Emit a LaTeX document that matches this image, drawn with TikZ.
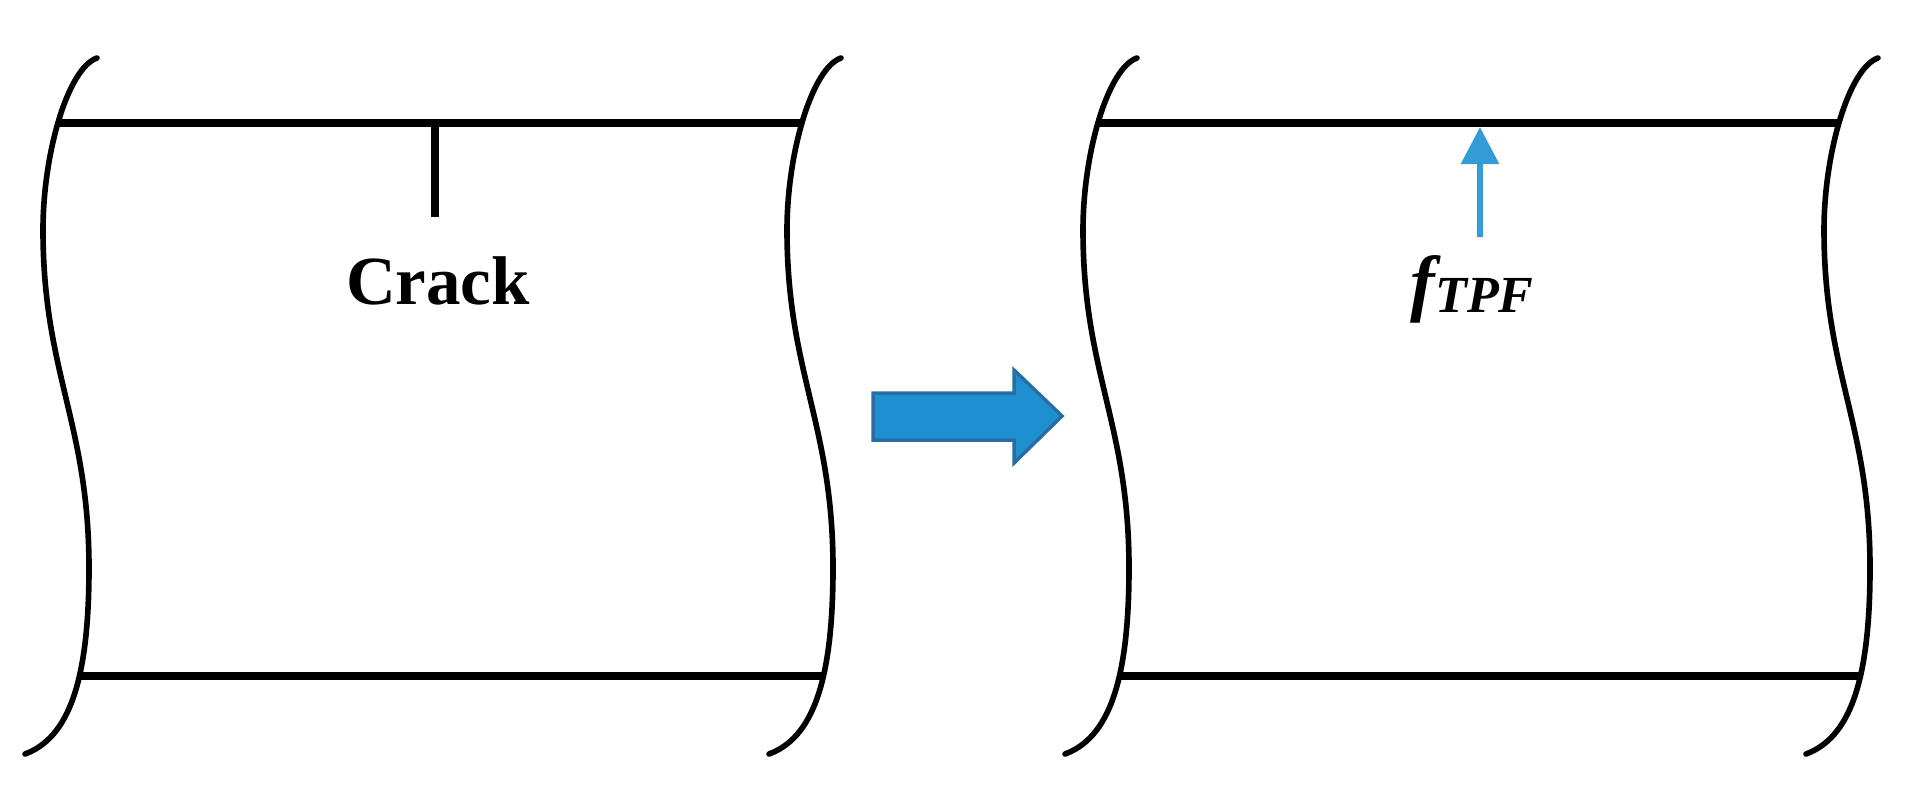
\documentclass[tikz,border=0pt]{standalone}
\usepackage{fontspec}
\setmainfont{Liberation Serif}
\usetikzlibrary{arrows.meta}

\definecolor{arrowblue}{RGB}{30,144,210}
\definecolor{arrowedge}{RGB}{40,110,165}
\definecolor{forceblue}{RGB}{52,155,215}

\tikzstyle{rim} = [line width=1.6pt,line cap=round]
\tikzstyle{wall} = [draw,line width=2.3pt]
\tikzstyle{bigarrow} = [fill=arrowblue,draw=arrowedge,line width=1pt]
\tikzstyle{forcearrow} = [-{Triangle[length=3.7mm,width=3.7mm]},draw=forceblue,line width=1.7pt]
\tikzstyle{cracktext} = [font=\fontsize{19.6}{20}\selectfont\bfseries,inner sep=0pt]
\tikzstyle{forcetext} = [font=\fontsize{21}{21}\selectfont\bfseries\itshape,inner sep=0pt]

\begin{document}
\begin{tikzpicture}[x=0.01cm,y=-0.01cm]
      \useasboundingbox (0,0) rectangle (1912,808);

      %% wavy cut edges of both panels
      \foreach \X in {58,802,1098,1839}
      {
        \draw[rim,shift={(\X,123)}] (39,-65) .. controls (10,-55) and (-15,30) .. (-15,107)
          .. controls (-15,250) and (31,300) .. (31,445)
          .. controls (31,560) and (10,615) .. (-33,631);
      }

      %% pipe walls
      \foreach \nodename/\x/\y in {tl1/58/123, tr1/802/123, bl1/80/676, br1/823/676,
        tl2/1098/123, tr2/1839/123, bl2/1120/676, br2/1861/676}
      {
        \coordinate (\nodename) at (\x,\y);
      }
      \path
      \foreach \startnode/\endnode in {tl1/tr1, bl1/br1, tl2/tr2, bl2/br2}
      {
        (\startnode) edge[wall] (\endnode)
      };

      %% crack
      \coordinate (crackroot) at (435,123);
      \coordinate (cracktip) at (435,217);
      \draw[wall] (crackroot) -- (cracktip);
      \node[cracktext,anchor=base] (crack) at (438,304) {Crack};

      %% transition arrow
      \draw[bigarrow] (873,393) -- (1014,393) -- (1014,370) -- (1062,416)
        -- (1014,463) -- (1014,440) -- (873,440) -- cycle;

      %% force at the wall
      \coordinate (ftail) at (1480,237);
      \coordinate (fhit) at (1480,127);
      \draw[forcearrow] (ftail) -- (fhit);
      \node[forcetext,anchor=base west] (ftpf) at (1410,307)
        {f\raisebox{-1.6pt}{\fontsize{14.8}{15}\selectfont TPF}};
\end{tikzpicture}
\end{document}
